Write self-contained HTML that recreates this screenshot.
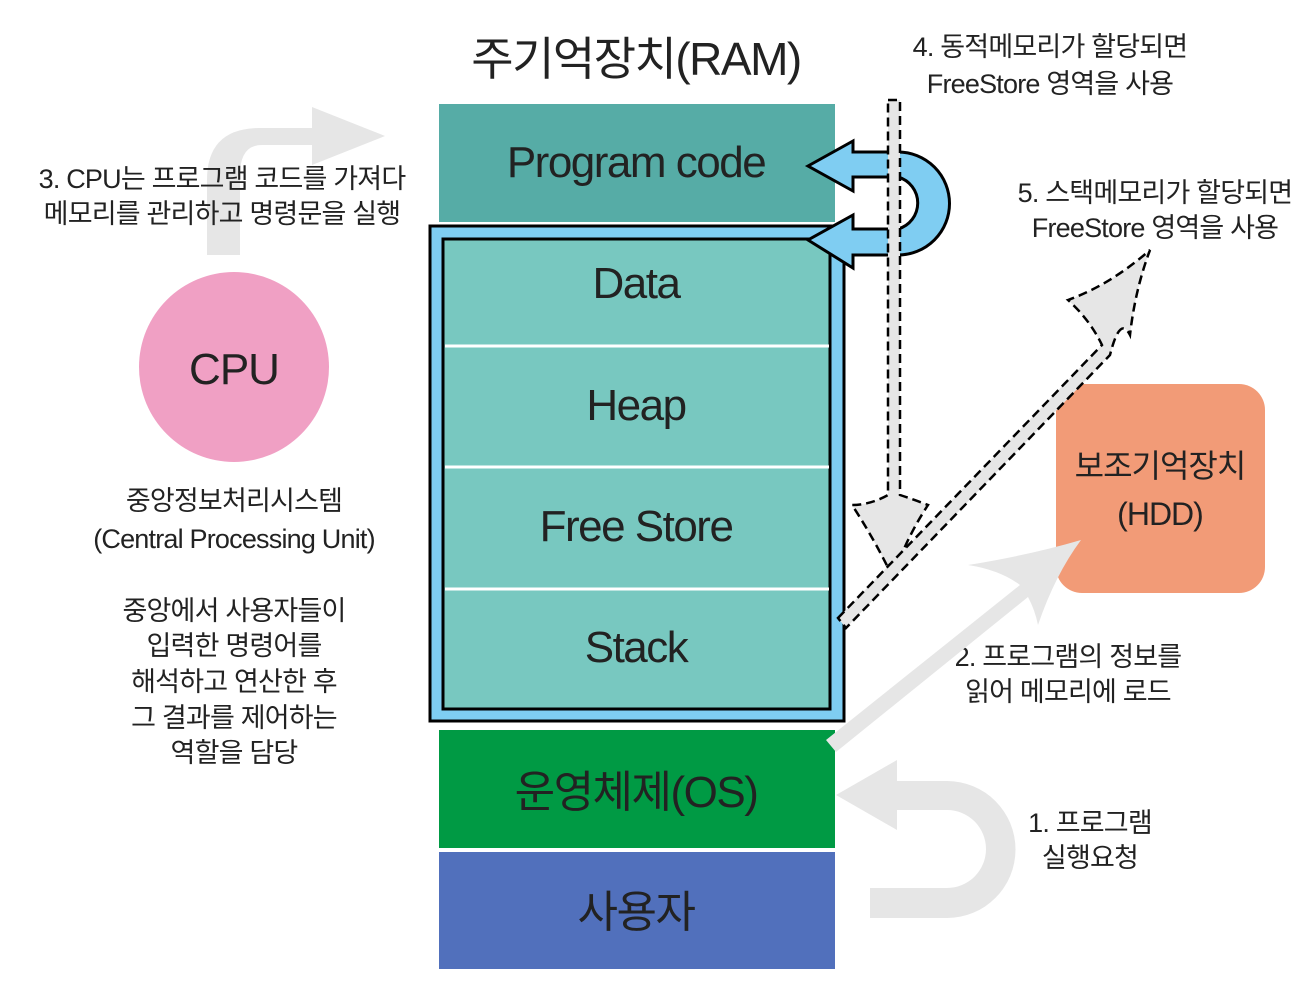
<!DOCTYPE html>
<html><head><meta charset="utf-8"><style>
body{margin:0;background:#fff;width:1300px;height:1000px;overflow:hidden;}
svg{display:block}
text{font-family:"Liberation Sans","Noto Sans CJK KR",sans-serif;fill:#222;}
</style></head><body>
<svg width="1300" height="1000" viewBox="0 0 1300 1000">
<path d="M207,255 L207,180 Q207,128 260,128 L312,128 L312,107 L385,136 L312,165 L312,145 L262,145 Q240,145 240,175 L240,255 Z" fill="#e6e6e6"/>
<rect x="439" y="104" width="396" height="118" fill="#56aca6"/>
<rect x="430" y="226" width="414" height="495" fill="#7fcdf2" stroke="#000" stroke-width="3"/>
<rect x="443" y="239" width="387" height="470" fill="#78c8c0" stroke="#000" stroke-width="3"/>
<g stroke="#fff" stroke-width="3">
<line x1="445" y1="346" x2="829" y2="346"/><line x1="445" y1="467" x2="829" y2="467"/><line x1="445" y1="589" x2="829" y2="589"/>
</g>
<rect x="439" y="730" width="396" height="118" fill="#009a44"/>
<rect x="439" y="852" width="396" height="117" fill="#5170bc"/>
<g font-size="44" text-anchor="middle" letter-spacing="-1.5">
<text x="636" y="177">Program code</text>
<text x="636" y="298">Data</text>
<text x="636" y="420">Heap</text>
<text x="636" y="541">Free Store</text>
<text x="636" y="662">Stack</text>
<text x="636" y="807">운영체제(OS)</text>
<text x="636" y="927">사용자</text>
<text x="636" y="75" font-size="46">주기억장치(RAM)</text>
</g>
<circle cx="234" cy="367" r="95" fill="#f0a0c4"/>
<text x="234" y="384" font-size="44" text-anchor="middle" letter-spacing="-1">CPU</text>
<g font-size="27" text-anchor="middle" letter-spacing="-0.8">
<text x="234" y="510">중앙정보처리시스템</text>
<text x="234" y="548">(Central Processing Unit)</text>
<text x="234" y="620">중앙에서 사용자들이</text>
<text x="234" y="655">입력한 명령어를</text>
<text x="234" y="691">해석하고 연산한 후</text>
<text x="234" y="727">그 결과를 제어하는</text>
<text x="234" y="762">역할을 담당</text>
<text x="222" y="188">3. CPU는 프로그램 코드를 가져다</text>
<text x="222" y="223">메모리를 관리하고 명령문을 실행</text>
<text x="1050" y="56">4. 동적메모리가 할당되면</text>
<text x="1050" y="93">FreeStore 영역을 사용</text>
<text x="1155" y="202">5. 스택메모리가 할당되면</text>
<text x="1155" y="237">FreeStore 영역을 사용</text>
<text x="1068" y="666">2. 프로그램의 정보를</text>
<text x="1068" y="701">읽어 메모리에 로드</text>
<text x="1090" y="832">1. 프로그램</text>
<text x="1090" y="867">실행요청</text>
</g>
<rect x="1056" y="384" width="209" height="209" rx="26" fill="#f29b77"/>
<g font-size="32" text-anchor="middle" letter-spacing="-1"><text x="1160" y="477">보조기억장치</text><text x="1160" y="525">(HDD)</text></g>
<path d="M826,740 L1020,585 Q1000,570 968,565 Q1030,555 1081,540 Q1055,575 1038,625 Q1035,610 1028,597 L836,752 Z" fill="#e6e6e6"/>
<path d="M836,795 L897,760 L897,781 L947,781 A68,68 0 0 1 947,918 L870,918 L870,888 L947,888 A39,39 0 0 0 947,810 L897,810 L897,830 Z" fill="#e6e6e6"/>
<path d="M808,166 L853,141 L853,152 L898,152 A46,46 0 0 1 898,255 L853,255 L853,268 L808,240 L853,215 L853,229 L898,229 A27,27 0 0 0 898,177 L853,177 L853,191 Z" fill="#7fcdf2" stroke="#000" stroke-width="3" stroke-linejoin="miter"/>
<path d="M888,100 L900,100 L900,495 Q915,500 928,505 Q905,540 893,578 Q875,540 852,505 Q870,505 888,495 Z" fill="#e6e6e6" stroke="#000" stroke-width="2.5" stroke-dasharray="9,5"/>
<path d="M838,618 L1102,345 Q1090,320 1068,300 Q1110,285 1150,250 Q1135,290 1130,335 Q1120,315 1110,355 L846,628 Z" fill="#e6e6e6" stroke="#000" stroke-width="2.5" stroke-dasharray="9,5"/>
</svg>
</body></html>
